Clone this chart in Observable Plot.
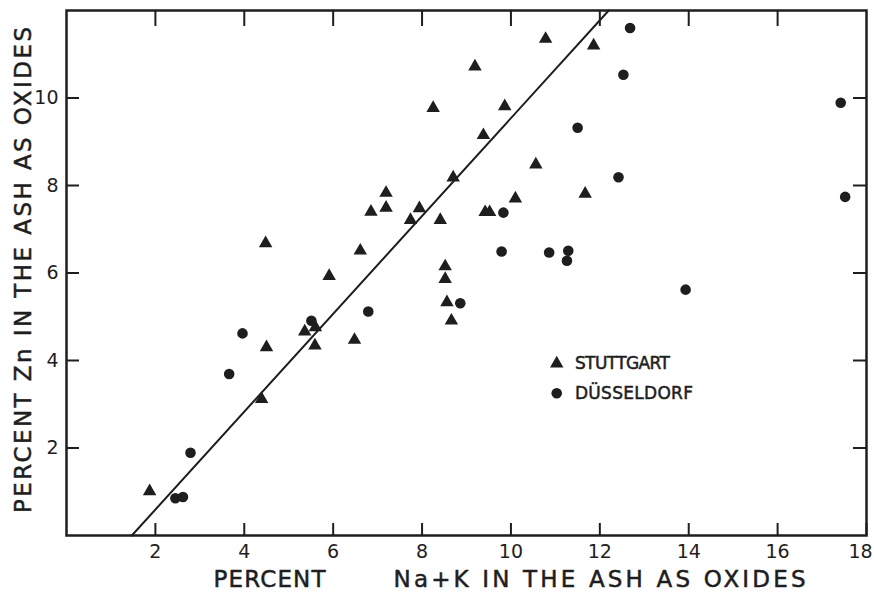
<!DOCTYPE html>
<html>
<head>
<meta charset="utf-8">
<script src="https://cdn.jsdelivr.net/npm/d3@7"></script>
<script src="https://cdn.jsdelivr.net/npm/@observablehq/plot@0.6"></script>
<style>
  html, body { margin: 0; padding: 0; background: #fff; }
</style>
</head>
<body>
<div id="chart"></div>
<script>
// Stuttgart: Na+K % (x) and Zn % (y)
const stuttgartX = [9.19, 8.25, 9.38, 8.70, 7.19, 7.19, 6.85, 7.94, 7.74, 8.41, 4.48, 6.61, 5.91, 8.52, 8.52,
  10.78, 11.86, 9.86, 10.56, 11.67, 10.10, 9.42, 9.52, 8.56, 8.66, 5.60, 5.36, 5.59, 6.48, 4.50, 4.39, 1.87];
const stuttgartY = [10.72, 9.77, 9.15, 8.18, 7.83, 7.49, 7.40, 7.48, 7.21, 7.21, 6.68, 6.51, 5.93, 6.15, 5.86,
  11.35, 11.20, 9.81, 8.48, 7.81, 7.70, 7.39, 7.39, 5.33, 4.91, 4.76, 4.66, 4.34, 4.47, 4.30, 3.12, 1.01];
// Düsseldorf
const duesseldorfX = [12.68, 12.53, 17.42, 11.50, 12.42, 17.52, 9.83, 9.79, 10.86, 11.29, 11.26, 13.93,
  8.86, 6.79, 5.51, 3.96, 3.66, 2.79, 2.45, 2.62];
const duesseldorfY = [11.60, 10.53, 9.89, 9.32, 8.19, 7.74, 7.38, 6.49, 6.47, 6.51, 6.28, 5.62,
  5.31, 5.12, 4.91, 4.62, 3.69, 1.89, 0.85, 0.88];
// fitted line endpoints
const fitX = [1.47, 12.2];
const fitY = [0, 12];
// ticks
const xTicks = [2, 4, 6, 8, 10, 12, 14, 16, 18];
const xTopTicks = [2, 4, 6, 8, 10, 12, 14, 16];
const yTicks = [2, 4, 6, 8, 10];
// labels
const yLabel = "PERCENT Zn IN THE ASH AS OXIDES";
const xLabel1 = "PERCENT";
const xLabel2 = "Na+K IN THE ASH AS OXIDES";
const legendNames = ["STUTTGART", "DÜSSELDORF"];

const ink = "#1e1e1e";
const font = "DejaVu Sans, sans-serif";
const W = 874, H = 601;
const mL = 66, mR = 8, mT = 10, mB = 66;
const pw = W - mL - mR, ph = H - mT - mB;

const stuttgart = stuttgartX.map((x, i) => ({x, y: stuttgartY[i]}));
const duesseldorf = duesseldorfX.map((x, i) => ({x, y: duesseldorfY[i]}));
const fit = fitX.map((x, i) => ({x, y: fitY[i]}));
// legend anchor (data units)
const legX = 11.03, legTextX = 11.44, legY = [3.93, 3.25];

const textStyle = {fill: ink, stroke: ink, strokeWidth: 0.5};

const chart = Plot.plot({
  width: W, height: H,
  marginLeft: mL, marginRight: mR, marginTop: mT, marginBottom: mB,
  style: {fontFamily: font, fontSize: "19px", color: ink, background: "#fff"},
  x: {domain: [0, 18]},
  y: {domain: [0, 12]},
  marks: [
    Plot.line(fit, {x: "x", y: "y", stroke: ink, strokeWidth: 2}),
    Plot.dot(stuttgart, {x: "x", y: "y", symbol: "triangle", r: 5, fill: ink, stroke: "none"}),
    Plot.dot(duesseldorf, {x: "x", y: "y", symbol: "circle", r: 5.3, fill: ink, stroke: "none"}),
    // inward ticks
    Plot.ruleX(xTicks, {x: d => d, insetTop: ph - 12, stroke: ink, strokeWidth: 2}),
    Plot.ruleX(xTopTicks, {x: d => d, insetBottom: ph - 16, stroke: ink, strokeWidth: 2}),
    Plot.ruleY(yTicks, {y: d => d, insetRight: pw - 13, stroke: ink, strokeWidth: 2}),
    Plot.ruleY(yTicks, {y: d => d, insetLeft: pw - 13, stroke: ink, strokeWidth: 2}),
    Plot.frame({stroke: ink, strokeWidth: 2.5}),
    Plot.axisX(xTicks.slice(0, -1), {tickSize: 0, tickPadding: 9, label: null, fontSize: 19, ...textStyle}),
    Plot.axisX(xTicks.slice(-1), {tickSize: 0, tickPadding: 9, dx: -6, label: null, fontSize: 19, ...textStyle}),
    Plot.axisY(yTicks, {tickSize: 0, tickPadding: 8, label: null, fontSize: 19, ...textStyle}),
    // axis labels
    Plot.text([yLabel], {frameAnchor: "left", textAnchor: "middle", dx: -43, dy: -3, rotate: -90, fontSize: 23, ...textStyle}),
    Plot.text([xLabel1], {frameAnchor: "bottom", textAnchor: "middle", dx: -197, dy: 51, fontSize: 23, ...textStyle}),
    Plot.text([xLabel2], {frameAnchor: "bottom", textAnchor: "middle", dx: 133, dy: 51, fontSize: 23, ...textStyle}),
    // legend
    Plot.dot([legY[0]], {x: () => legX, y: d => d, symbol: "triangle", r: 5, fill: ink, stroke: "none"}),
    Plot.dot([legY[1]], {x: () => legX, y: d => d, symbol: "circle", r: 5.3, fill: ink, stroke: "none"}),
    Plot.text(legendNames, {x: () => legTextX, y: (d, i) => legY[i], text: d => d, textAnchor: "start", fontSize: 17, ...textStyle})
  ]
});
// stretch lettering to the reference's spacing
const lengths = new Map([[yLabel, 486], [xLabel1, 112], [xLabel2, 412], [legendNames[0], 95], [legendNames[1], 118]]);
d3.select(chart).selectAll("text").each(function() {
  const t = this.textContent;
  if (lengths.has(t)) {
    this.setAttribute("textLength", lengths.get(t));
    this.setAttribute("lengthAdjust", "spacing");
  }
});
document.getElementById("chart").appendChild(chart);
</script>
</body>
</html>
